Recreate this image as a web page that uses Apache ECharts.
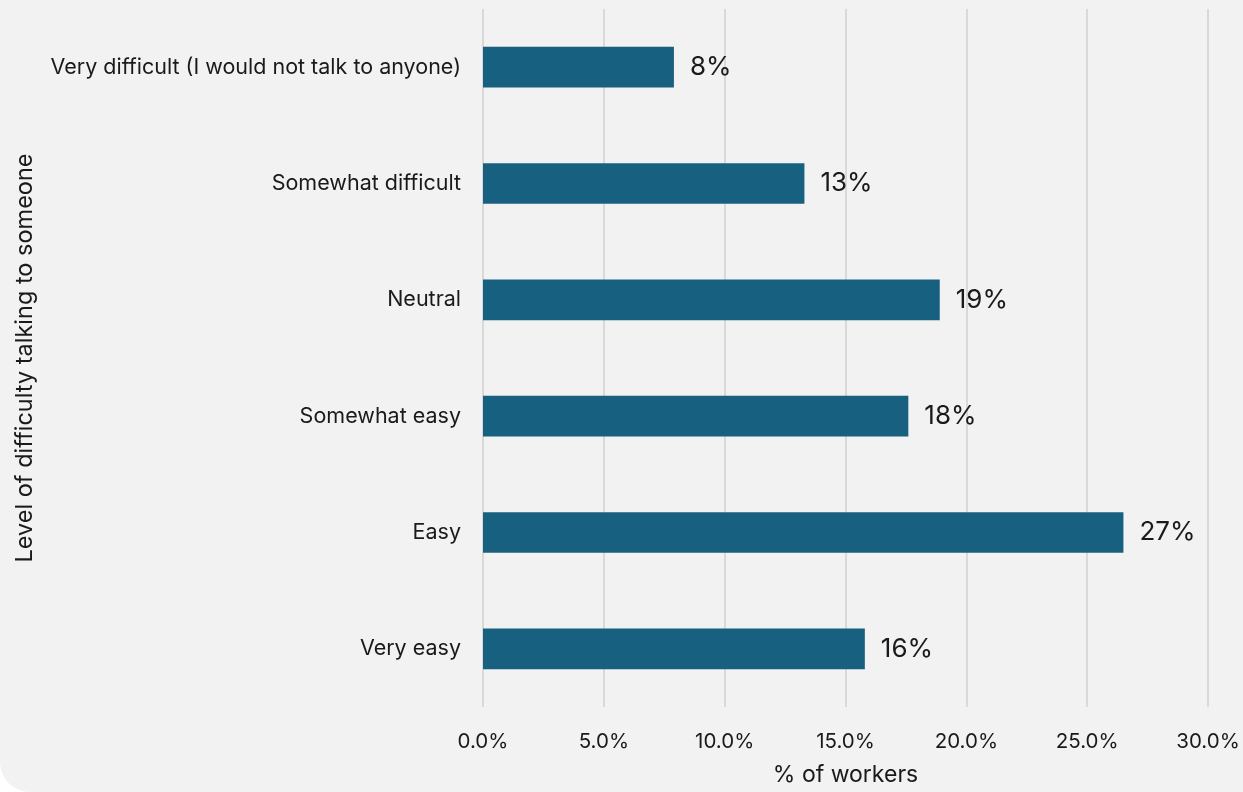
<!DOCTYPE html>
<html>
<head>
<meta charset="utf-8">
<script src="https://cdn.jsdelivr.net/npm/echarts@6/dist/echarts.min.js"></script>
<style>
  html, body { margin: 0; padding: 0; background: #ffffff; }
  #chart {
    width: 1243px; height: 792px;
    background: #f2f2f2;
    border-bottom-left-radius: 30px;
    overflow: hidden;
  }
</style>
</head>
<body>
<div id="chart"></div>
<script>
// Response categories, top to bottom
const categories = [
  'Very difficult (I would not talk to anyone)',
  'Somewhat difficult',
  'Neutral',
  'Somewhat easy',
  'Easy',
  'Very easy'
];
// Share of workers (%) per response
const shares = [7.9, 13.3, 18.9, 17.6, 26.5, 15.8];
// Axis settings
const xMin = 0, xMax = 30, xStep = 5;

const font = 'Inter, "Open Sans", sans-serif';
const chart = echarts.init(document.getElementById('chart'), null, { renderer: 'canvas' });
chart.setOption({
  backgroundColor: 'transparent',
  animation: false,
  grid: { left: 483, right: 35, top: 9, bottom: 78, containLabel: false },
  xAxis: {
    type: 'value',
    min: xMin, max: xMax, interval: xStep,
    name: '% of workers',
    nameLocation: 'middle',
    nameGap: 57,
    nameTextStyle: { color: '#1a1a1a', fontSize: 23, fontFamily: font },
    axisLine: { show: false },
    axisTick: { show: false },
    axisLabel: {
      color: '#1a1a1a', fontSize: 20.5, fontFamily: font, margin: 24,
      formatter: v => v.toFixed(1) + '%'
    },
    splitLine: { show: true, lineStyle: { color: '#d9d9d9', width: 2 } }
  },
  yAxis: {
    type: 'category',
    data: categories,
    inverse: true,
    name: 'Level of difficulty talking to someone',
    nameLocation: 'middle',
    nameGap: 446,
    nameTextStyle: { color: '#1a1a1a', fontSize: 23.5, fontFamily: font },
    axisLine: { show: false },
    axisTick: { show: false },
    axisLabel: { color: '#1a1a1a', fontSize: 21.5, fontFamily: font, margin: 22 }
  },
  series: [{
    type: 'bar',
    data: shares,
    barWidth: '35%',
    itemStyle: { color: '#17607f' },
    label: {
      show: true, position: 'right', distance: 16,
      color: '#1a1a1a', fontSize: 26, fontFamily: font,
      formatter: p => Math.round(p.value) + '%'
    }
  }]
});
</script>
</body>
</html>
